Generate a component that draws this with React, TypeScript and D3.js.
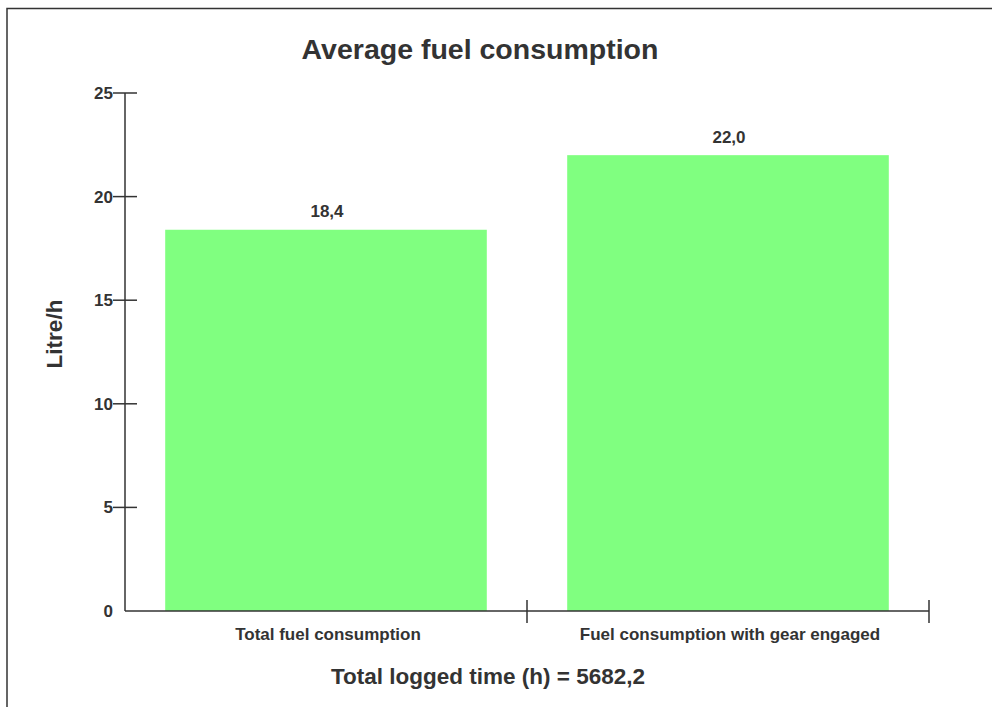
import React, { useEffect, useRef } from "react";
import * as d3 from "d3";

const categories = ["Total fuel consumption", "Fuel consumption with gear engaged"];
const values = [18.4, 22.0];
const yTicks = [0, 5, 10, 15, 20, 25];
const title = "Average fuel consumption";
const yLabel = "Litre/h";
const xLabel = "Total logged time (h) = 5682,2";

const W = 992;
const H = 707;
const FONT = "'Liberation Sans', Arial, Helvetica, sans-serif";
const TXT = "#333";

export default function App() {
  const ref = useRef<SVGSVGElement>(null);
  useEffect(() => {
    const svg = d3.select(ref.current!);
    svg.selectAll("*").remove();

    // outer frame
    svg.append("rect").attr("x", 7).attr("y", 8.5).attr("width", 2000).attr("height", 2000)
      .attr("fill", "none").attr("stroke", "#333").attr("stroke-width", 1.5);

    const left = 125, right = 929, top = 93, bottom = 611;
    const x = d3.scaleBand<string>().domain(categories).range([left, right]).paddingInner(0.2).paddingOuter(0.1);
    const band = d3.scaleBand<string>().domain(categories).range([left, right]);
    const y = d3.scaleLinear().domain([0, 25]).range([bottom, top]);

    // bars
    svg.selectAll("rect.bar").data(values).enter().append("rect")
      .attr("class", "bar")
      .attr("x", (_d, i) => x(categories[i])!)
      .attr("width", x.bandwidth())
      .attr("y", d => y(d))
      .attr("height", d => bottom - y(d))
      .attr("fill", "#80ff80");

    // value labels
    svg.selectAll("text.val").data(values).enter().append("text")
      .attr("x", (_d, i) => x(categories[i])! + x.bandwidth() / 2 + 1)
      .attr("y", d => y(d) - 12.5)
      .attr("text-anchor", "middle")
      .attr("font-family", FONT).attr("font-weight", "bold").attr("font-size", 17)
      .attr("fill", TXT)
      .text(d => d.toFixed(1).replace(".", ","));

    // y axis
    const g = svg.append("g");
    g.append("line").attr("x1", left).attr("x2", left).attr("y1", top).attr("y2", bottom)
      .attr("stroke", "#333").attr("stroke-width", 1.5);
    yTicks.forEach(t => {
      if (t !== 0) {
        g.append("line").attr("x1", left - 12).attr("x2", left + 12).attr("y1", y(t)).attr("y2", y(t))
          .attr("stroke", "#333").attr("stroke-width", 1.5);
      }
      g.append("text").attr("x", left - 12).attr("y", y(t)).attr("dy", "0.35em")
        .attr("text-anchor", "end").attr("font-family", FONT).attr("font-weight", "bold")
        .attr("font-size", 17).attr("fill", TXT).text(String(t));
    });

    // x axis
    g.append("line").attr("x1", left).attr("x2", right).attr("y1", bottom).attr("y2", bottom)
      .attr("stroke", "#333").attr("stroke-width", 1.5);
    categories.forEach(c => {
      const xe = band(c)! + band.bandwidth();
      g.append("line").attr("x1", xe).attr("x2", xe).attr("y1", bottom - 11).attr("y2", bottom + 12)
        .attr("stroke", "#333").attr("stroke-width", 1.5);
      g.append("text").attr("x", band(c)! + band.bandwidth() / 2 + 2).attr("y", bottom + 29)
        .attr("text-anchor", "middle").attr("font-family", FONT).attr("font-weight", "bold")
        .attr("font-size", 17).attr("fill", TXT).text(c);
    });

    // title
    svg.append("text").attr("x", 480).attr("y", 59).attr("text-anchor", "middle")
      .attr("font-family", FONT).attr("font-weight", "bold").attr("font-size", 28.5)
      .attr("fill", TXT).text(title);

    // x label
    svg.append("text").attr("x", 488).attr("y", 684).attr("text-anchor", "middle")
      .attr("font-family", FONT).attr("font-weight", "bold").attr("font-size", 22.5)
      .attr("fill", TXT).text(xLabel);

    // y label
    svg.append("text").attr("transform", `translate(62,334) rotate(-90)`).attr("text-anchor", "middle")
      .attr("font-family", FONT).attr("font-weight", "bold").attr("font-size", 22.5)
      .attr("fill", TXT).text(yLabel);
  }, []);

  return (
    <svg ref={ref} width={W} height={H}
      style={{ position: "absolute", left: 0, top: 0, display: "block" }} />
  );
}
